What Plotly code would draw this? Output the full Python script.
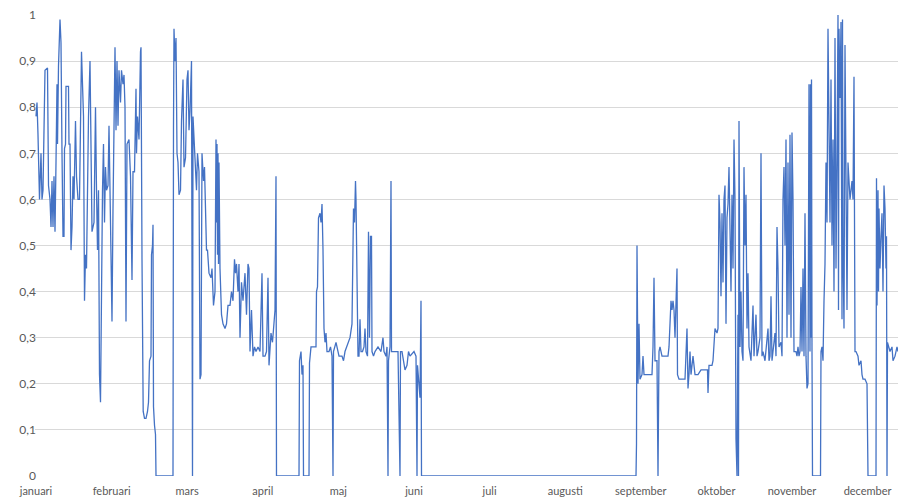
import plotly.graph_objects as go

# Månadsetiketter (kategoriaxel, etikett var 75,6:e observation)
months = ["januari", "februari", "mars", "april", "maj", "juni", "juli",
          "augusti", "september", "oktober", "november", "december"]
obs_per_month = 75.6

y_ticks = [0, 0.1, 0.2, 0.3, 0.4, 0.5, 0.6, 0.7, 0.8, 0.9, 1.0]
y_ticktext = ["0", "0,1", "0,2", "0,3", "0,4", "0,5", "0,6", "0,7", "0,8", "0,9", "1"]

# (observationsnummer, värde) avlästa ur bilden
# januari - april
seg_winter = [
    (0, 0.78), (1, 0.81), (2, 0.74), (3.5, 0.60), (5, 0.70), (6, 0.60), (7, 0.62), (8, 0.72), (9, 0.88),
    (11.5, 0.885), (12.5, 0.63), (14, 0.60), (15, 0.54), (16, 0.64), (17, 0.54), (18, 0.65), (19, 0.53),
    (20, 0.68), (21, 0.85), (21.5, 0.72), (22.5, 0.89), (24, 0.99), (25, 0.94), (26, 0.70), (27, 0.52),
    (28, 0.52), (28.5, 0.71), (29.5, 0.72), (30, 0.845), (32.5, 0.845), (33, 0.72), (34, 0.72), (35, 0.49),
    (36, 0.54), (37, 0.65), (38, 0.60), (39.5, 0.77), (40.5, 0.65), (42, 0.60), (43.5, 0.60), (44.5, 0.83),
    (45.5, 0.92), (46.5, 0.85), (47.5, 0.78), (48.5, 0.38), (49.5, 0.48), (50.5, 0.45), (51.5, 0.71),
    (52.5, 0.78), (54, 0.90), (55, 0.72), (56, 0.53), (58, 0.55), (59.5, 0.80), (60.5, 0.62), (61.5, 0.49),
    (62.5, 0.62), (63.5, 0.22), (64.5, 0.16), (65.5, 0.50), (66.5, 0.62), (67.5, 0.72), (68.5, 0.55),
    (69.5, 0.67), (70.5, 0.62), (72, 0.63), (73, 0.76), (74.5, 0.55), (76, 0.335), (77, 0.58), (79, 0.93),
    (80, 0.75), (81, 0.90), (82, 0.76), (83, 0.88), (84.5, 0.81), (85.5, 0.88), (87, 0.85), (88, 0.87),
    (89, 0.80), (90, 0.335), (91, 0.72), (93, 0.73), (94.5, 0.65), (96, 0.425), (97, 0.66), (98.5, 0.66),
    (100, 0.84), (100.5, 0.70), (101.5, 0.78), (103, 0.73), (104.5, 0.92), (105, 0.93), (106, 0.47),
    (106.5, 0.20), (107.2, 0.14), (108.5, 0.125), (110, 0.125), (111.5, 0.14), (112.5, 0.16), (113.5, 0.25),
    (115, 0.26), (115.5, 0.48), (116.5, 0.50), (117, 0.545), (117.5, 0.15), (118.5, 0.11), (119.5, 0.09),
    (120, 0.0), (137, 0.0), (137.5, 0.76), (138, 0.97), (139, 0.90), (140, 0.95), (141, 0.70), (142, 0.68),
    (143, 0.61), (144.5, 0.62), (145.5, 0.77), (147, 0.86), (148, 0.67), (149.5, 0.69), (151, 0.86),
    (152, 0.88), (153, 0.75), (154, 0.79), (155.5, 0.90), (156.5, 0.0), (157, 0.78), (158.5, 0.71),
    (159.5, 0.65), (160.5, 0.62), (161.5, 0.70), (163, 0.66), (164, 0.21), (165, 0.22), (166, 0.70),
    (167.5, 0.64), (168.5, 0.67), (169.5, 0.60), (170.5, 0.49), (171.5, 0.49), (173, 0.44), (175, 0.43),
    (176, 0.45), (177.5, 0.37), (179, 0.40), (180, 0.73), (180.5, 0.55), (181, 0.72), (181.5, 0.48),
    (182, 0.70), (182.5, 0.46), (183, 0.68), (184, 0.45), (185.5, 0.35), (187, 0.33), (189, 0.32),
    (190.5, 0.33), (192, 0.37), (194, 0.37), (195.5, 0.40), (197, 0.38), (198.5, 0.47), (199.5, 0.44),
    (200.5, 0.46), (202, 0.40), (203, 0.46), (204, 0.30), (205.5, 0.42), (207, 0.38), (209, 0.44),
    (210.5, 0.35), (212, 0.46), (213, 0.45), (214, 0.27), (215.5, 0.36), (217, 0.26), (218.5, 0.28),
    (220, 0.27), (222, 0.28), (224, 0.27), (226, 0.44), (227, 0.26), (229, 0.26), (230.5, 0.27),
    (232, 0.43), (233, 0.24), (235, 0.31), (236.5, 0.29), (238, 0.34), (239, 0.36), (240, 0.65),
    (240.5, 0.0),
]

# april - augusti
seg_summer = [
    (263, 0.0), (263.5, 0.25), (265, 0.27), (266, 0.22), (267, 0.24), (267.5, 0.0), (273, 0.0),
    (273.5, 0.245), (275, 0.28), (280, 0.28), (280.5, 0.40), (281.5, 0.41), (282.5, 0.56), (284, 0.57),
    (285, 0.55), (286, 0.59), (287, 0.49), (288, 0.32), (289, 0.29), (290, 0.31), (291, 0.27), (293, 0.27),
    (294.5, 0.28), (296, 0.26), (297, 0.0), (297.5, 0.27), (300, 0.29), (301.5, 0.27), (303, 0.26),
    (306, 0.26), (307.5, 0.25), (309, 0.27), (310.5, 0.28), (312, 0.29), (314, 0.30), (316, 0.33),
    (316.5, 0.40), (317.5, 0.58), (318.5, 0.55), (319.5, 0.64), (320, 0.60), (321, 0.39), (322, 0.26),
    (323, 0.26), (324, 0.34), (325, 0.27), (326.5, 0.27), (328, 0.28), (329, 0.32), (330, 0.27),
    (331.5, 0.26), (332.5, 0.53), (333.5, 0.30), (334.5, 0.52), (335.5, 0.52), (336, 0.27), (337.5, 0.26),
    (339, 0.27), (342, 0.28), (345, 0.27), (347, 0.30), (348, 0.27), (350, 0.26), (351, 0.28), (352, 0.0),
    (352.5, 0.25), (354, 0.28), (355, 0.64), (355.5, 0.27), (357, 0.27), (362, 0.27), (364, 0.0),
    (364.5, 0.27), (366, 0.27), (367.5, 0.25), (369, 0.23), (371, 0.24), (372.5, 0.27), (374, 0.26),
    (378, 0.27), (380, 0.26), (381, 0.0), (381.5, 0.24), (383, 0.20), (384, 0.17), (385, 0.38),
    (385.5, 0.0), (600, 0.0),
]

# september - december
seg_autumn = [
    (600.5, 0.07), (601, 0.50), (602, 0.20), (603, 0.33), (604, 0.21), (606, 0.22), (607, 0.26),
    (608, 0.22), (610, 0.22), (613, 0.22), (616, 0.22), (617, 0.28), (618, 0.43), (619, 0.25), (621, 0.25),
    (622, 0.0), (623, 0.27), (624, 0.28), (626, 0.26), (629, 0.26), (632, 0.26), (633, 0.28), (634, 0.36),
    (635, 0.38), (636, 0.36), (637, 0.38), (638, 0.36), (639, 0.30), (641, 0.45), (641.5, 0.22),
    (643, 0.21), (646, 0.21), (649, 0.21), (651, 0.32), (652, 0.19), (653, 0.22), (654, 0.27), (655, 0.22),
    (657, 0.26), (659, 0.22), (662, 0.22), (665, 0.23), (669, 0.23), (671.5, 0.23), (672, 0.18),
    (673, 0.24), (676, 0.24), (677, 0.25), (679, 0.32), (681, 0.31), (682, 0.32), (683, 0.61), (684, 0.55),
    (685, 0.39), (686, 0.57), (687, 0.42), (688, 0.60), (689, 0.63), (690, 0.33), (691, 0.56), (692, 0.59),
    (693, 0.67), (695, 0.40), (696, 0.61), (697, 0.45), (698, 0.73), (699, 0.60), (700, 0.08), (701, 0.0),
    (702, 0.35), (702.5, 0.0), (703, 0.77), (704, 0.28), (705, 0.40), (706, 0.27), (707, 0.25), (708, 0.67),
    (709, 0.50), (710, 0.61), (711, 0.32), (712, 0.44), (713, 0.28), (715, 0.25), (717, 0.37), (718, 0.26),
    (720, 0.35), (721, 0.26), (722, 0.27), (724, 0.30), (725, 0.70), (726, 0.26), (727, 0.27), (729, 0.25),
    (730.5, 0.28), (732, 0.32), (733, 0.25), (734, 0.26), (735, 0.39), (736, 0.25), (737, 0.27),
    (739, 0.31), (740, 0.26), (741, 0.54), (742, 0.45), (743, 0.28), (745, 0.29), (746, 0.26), (747, 0.60),
    (748, 0.67), (749, 0.50), (750, 0.73), (751, 0.30), (752, 0.68), (753, 0.35), (754, 0.74), (755, 0.30),
    (756, 0.745), (757, 0.60), (758, 0.27), (760, 0.27), (761, 0.26), (762, 0.28), (763, 0.26), (764, 0.27),
    (765, 0.41), (766, 0.27), (767, 0.45), (768, 0.26), (769, 0.57), (770, 0.26), (771, 0.19), (772, 0.20),
    (773, 0.85), (774, 0.27), (774.5, 0.85), (775, 0.30), (775.5, 0.86), (776, 0.27), (776.5, 0.0),
    (784.5, 0.0), (785, 0.27), (786, 0.28), (787, 0.25), (788, 0.38), (789, 0.46), (790, 0.68), (791, 0.55),
    (792, 0.97), (793, 0.81), (794, 0.55), (795, 0.86), (796, 0.50), (797, 0.73), (798, 0.40), (799, 0.95),
    (800, 0.45), (801, 0.69), (802, 1.0), (802.5, 0.36), (803, 0.97), (804, 0.82), (805, 0.985),
    (806, 0.34), (806.5, 0.99), (807, 0.50), (808, 0.32), (809, 0.935), (810, 0.55), (811, 0.36),
    (812, 0.68), (814, 0.60), (816, 0.64), (817, 0.60), (818, 0.866), (819, 0.27), (820, 0.27), (822, 0.26),
    (823, 0.24), (825, 0.25), (826, 0.22), (827, 0.21), (829, 0.21), (831, 0.20), (832, 0.0), (840, 0.0),
    (840.5, 0.646), (841, 0.37), (842, 0.62), (842.5, 0.40), (843, 0.58), (844, 0.45), (845, 0.52),
    (846, 0.57), (847, 0.40), (848, 0.63), (849, 0.58), (850, 0.45), (850.5, 0.52), (851, 0.0),
    (851.5, 0.29), (854, 0.27), (856, 0.28), (857, 0.25), (859, 0.26), (861, 0.28), (862, 0.27),
]

points = seg_winter + seg_summer + seg_autumn
x = [p[0] for p in points]
y = [p[1] for p in points]

fig = go.Figure()
fig.add_trace(go.Scatter(x=x, y=y, mode="lines",
                         line=dict(color="#4472C4", width=1.3),
                         hoverinfo="skip", showlegend=False))

tickpos = [i * obs_per_month for i in range(len(months))]

fig.update_layout(
    width=899, height=498,
    margin=dict(l=35, r=1, t=15, b=22),
    paper_bgcolor="white", plot_bgcolor="white",
    font=dict(family="Lato, Carlito, Calibri, sans-serif", size=11, color="#595959"),
    xaxis=dict(range=[-1, 862], tickvals=tickpos, ticktext=months,
               showgrid=False, zeroline=False, showline=False,
               ticks="outside", ticklen=5, tickcolor="rgba(0,0,0,0)"),
    yaxis=dict(range=[0, 1], tickvals=y_ticks, ticktext=y_ticktext,
               showgrid=True, gridcolor="#D9D9D9", gridwidth=1,
               zeroline=False, showline=False, ticks="",
               tickfont=dict(size=12), ticklabelstandoff=-2),
)

fig.write_html("out.html", config={"displayModeBar": False},
               post_script="document.body.style.margin='0';document.body.style.overflow='hidden';")
